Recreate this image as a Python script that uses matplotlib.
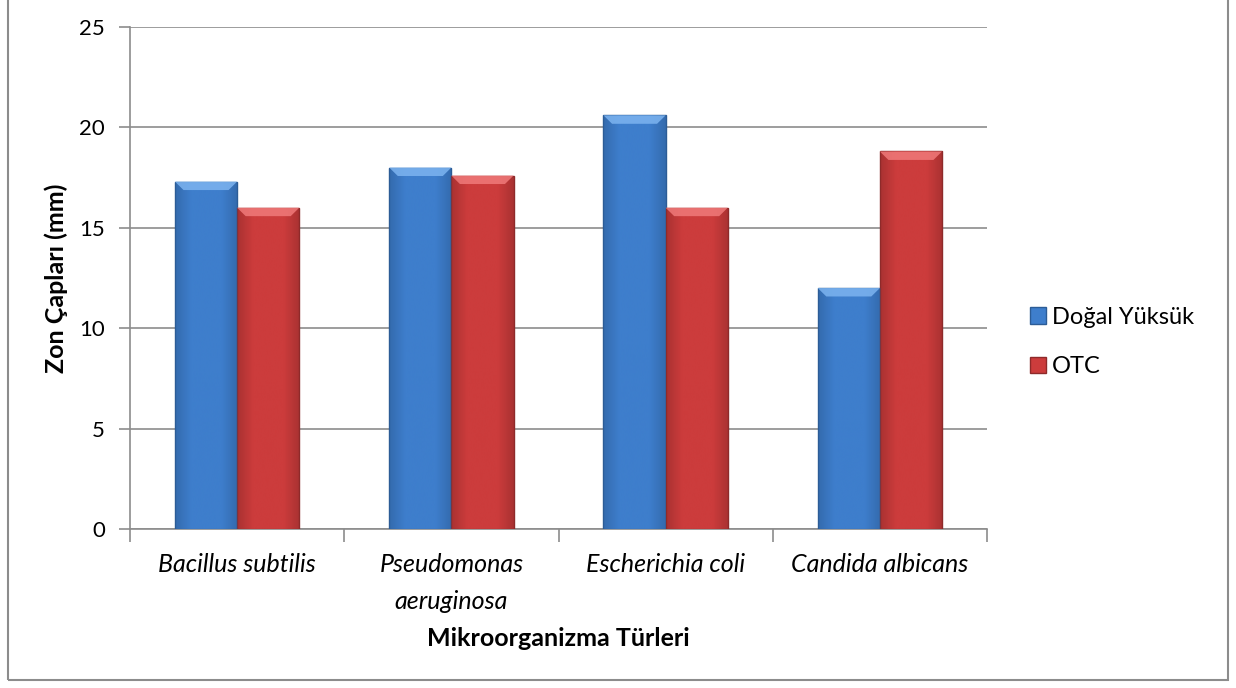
import numpy as np
import matplotlib.pyplot as plt
from matplotlib.patches import Rectangle, Polygon
from matplotlib.colors import LinearSegmentedColormap

plt.rcParams['font.family'] = ['Lato', 'DejaVu Sans']

# data
categories = ['Bacillus subtilis', 'Pseudomonas\naeruginosa', 'Escherichia coli', 'Candida albicans']
dogal_yuksuk = [17.3, 18.0, 20.6, 12.0]
otc = [16.0, 17.6, 16.0, 18.8]
series_names = ['Doğal Yüksük', 'OTC']

colors = {'Doğal Yüksük': ('#3e7ecc', '#7db4f0', '#2c5c96'),
          'OTC': ('#cc3c3c', '#f07a7a', '#8e2a2a')}

fig = plt.figure(figsize=(12.36, 6.88), dpi=100)
ax = fig.add_axes([130 / 1236, 1 - 529 / 688, 857 / 1236, 502 / 688])

x = np.arange(len(categories))
w = 0.29


def bevel_bars(xpos, vals, name):
    base, light, dark = colors[name]
    bars = ax.bar(xpos, vals, width=w, color=base, edgecolor=dark,
                  linewidth=1.0, zorder=3, label=name)
    cmap = LinearSegmentedColormap.from_list('g', [dark, base, base, base, dark])
    grad = np.linspace(0, 1, 64).reshape(1, -1)
    for b in bars:
        x0, y0 = b.get_x(), b.get_y()
        bw, bh = b.get_width(), b.get_height()
        im = ax.imshow(grad, extent=[x0, x0 + bw, y0, y0 + bh], aspect='auto',
                       cmap=cmap, alpha=0.55, zorder=3.5, interpolation='bicubic')
        im.set_clip_path(b)
        # bevel on top
        d = 0.42
        dx = 0.04
        top = Polygon([[x0, y0 + bh], [x0 + bw, y0 + bh],
                       [x0 + bw - dx, y0 + bh - d], [x0 + dx, y0 + bh - d]],
                      closed=True, facecolor=light, edgecolor='none', alpha=0.85, zorder=4)
        ax.add_patch(top)
    return bars


bevel_bars(x - w / 2, dogal_yuksuk, series_names[0])
bevel_bars(x + w / 2, otc, series_names[1])

ax.set_xlim(-0.5, len(categories) - 0.5)
ax.set_ylim(0, 25)
ax.set_yticks(np.arange(0, 26, 5))
ax.yaxis.grid(True, color='#8c8c8c', linewidth=1.2, zorder=0)
ax.set_axisbelow(True)

ax.set_xticks(x)
ax.set_xticklabels(categories, fontstyle='italic', fontsize=18, linespacing=1.75)
ax.tick_params(axis='x', length=0, pad=17)
ax.set_xticks(np.arange(-0.5, len(categories), 1), minor=True)
ax.tick_params(axis='x', which='minor', length=9, color='#8c8c8c', width=1.2)
ax.tick_params(axis='y', length=8, color='#8c8c8c', width=1.2, labelsize=16, pad=10)

for s in ['top', 'right']:
    ax.spines[s].set_visible(False)
for s in ['left', 'bottom']:
    ax.spines[s].set_color('#8c8c8c')
    ax.spines[s].set_linewidth(1.2)

ax.set_ylabel('Zon Çapları (mm)', fontsize=18, fontweight='bold', labelpad=8)
ax.set_xlabel('Mikroorganizma Türleri', fontsize=18, fontweight='bold', labelpad=10)

leg_handles = [Rectangle((0, 0), 1, 1, facecolor=colors[n][0], edgecolor=colors[n][2])
               for n in series_names]
fig.legend(leg_handles, series_names, loc='center left',
           bbox_to_anchor=(1009 / 1236, 1 - 342 / 688), frameon=False,
           fontsize=17, handlelength=0.68, handleheight=0.68, handletextpad=0.25,
           labelspacing=1.2)

# outer chart border
fig.add_artist(Rectangle((8 / 1236, 8 / 688), 1220 / 1236, 1.0,
                         transform=fig.transFigure, fill=False,
                         edgecolor='#8c8c8c', linewidth=1.5))

fig.savefig('out.png', dpi=100)
